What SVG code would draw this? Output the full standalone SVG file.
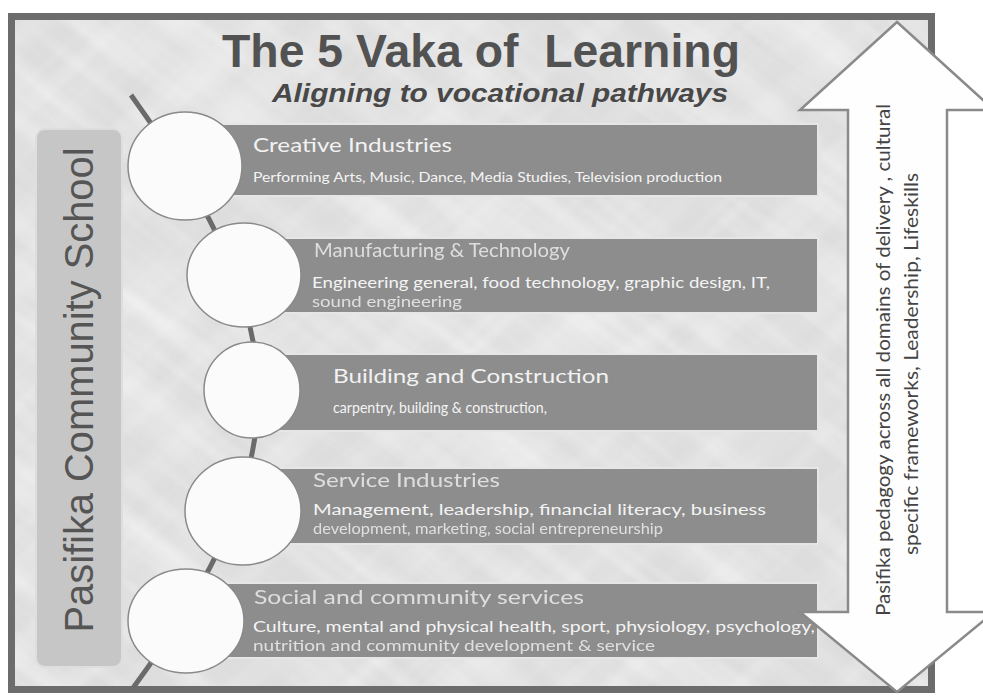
<svg xmlns="http://www.w3.org/2000/svg" width="983" height="697" viewBox="0 0 983 697">
  <defs>
    <style>
      .title { font-family: "Liberation Sans", Arial, sans-serif; font-weight: bold; fill: #525252; white-space: pre; }
      .subtitle { font-family: "Liberation Sans", Arial, sans-serif; font-weight: bold; font-style: italic; fill: #484848; }
      .bar-label { font-family: "Liberation Sans", Arial, sans-serif; fill: #555555; }
      .box { fill: #8d8d8d; stroke: #e6e6e6; stroke-width: 2; }
      .disc { fill: #fbfbfb; stroke: #8a8a8a; stroke-width: 1.5; }
      .head { font-family: Lato, "Open Sans", sans-serif; font-size: 20px; fill: #f2f2f2; }
      .line { font-family: Lato, "Open Sans", sans-serif; font-size: 14.5px; fill: #f4f4f4; }
      .small { font-size: 13.5px; }
      .worn { opacity: 0.8; filter: url(#smear); }
      .arrow-text { font-family: Lato, "Open Sans", sans-serif; font-size: 19px; fill: #444444; }
      .spine { fill: none; stroke: #6a6a6a; stroke-width: 5; }
    </style>
    <filter id="marble" x="0" y="0" width="100%" height="100%">
      <feTurbulence type="fractalNoise" baseFrequency="0.003 0.035" numOctaves="3" seed="7"/>
      <feColorMatrix type="matrix" values="0 0 0 0 1  0 0 0 0 1  0 0 0 0 1  0 0 0 1.1 -0.42"/>
    </filter>
    <filter id="smear" x="-5%" y="-30%" width="110%" height="160%">
      <feGaussianBlur stdDeviation="0.55"/>
    </filter>
    <clipPath id="inside">
      <rect x="15" y="20" width="913" height="666"/>
    </clipPath>
  </defs>

  <!-- page and marbled panel -->
  <rect x="0" y="0" width="983" height="697" fill="#ffffff"/>
  <rect x="15" y="20" width="913" height="666" fill="#dddddd"/>
  <g clip-path="url(#inside)">
    <rect x="-300" y="-300" width="1600" height="1300" filter="url(#marble)" transform="rotate(38 470 350)" opacity="0.8"/>
    <rect x="-300" y="-300" width="1600" height="1300" filter="url(#marble)" transform="rotate(-42 470 350)" opacity="0.55"/>
  </g>
  <rect x="11.5" y="16.5" width="920" height="673" fill="none" stroke="#6c6c6c" stroke-width="7"/>

  <!-- title -->
  <g id="title">
    <text class="title" x="222" y="67" font-size="46" textLength="518" lengthAdjust="spacingAndGlyphs" xml:space="preserve">The 5 Vaka of  Learning</text>
    <text class="subtitle" x="272" y="102" font-size="25" textLength="456" lengthAdjust="spacingAndGlyphs">Aligning to vocational pathways</text>
  </g>

  <!-- school bar on the left -->
  <g id="school">
    <rect x="36" y="129" width="86" height="538" rx="9" fill="#c6c6c6" stroke="#dedede" stroke-width="2"/>
    <text class="bar-label" font-size="40" text-anchor="middle" textLength="485" lengthAdjust="spacingAndGlyphs" transform="translate(93 390) rotate(-90)">Pasifika Community School</text>
  </g>

  <!-- spine running through the five discs -->
  <g id="connectors">
    <path class="spine" d="M131,95 C300,330 300,460 133,688"/>
  </g>

  <!-- vaka 1 -->
  <g id="vaka-creative">
    <rect class="box" x="185" y="124" width="633" height="72"/>
    <ellipse class="disc" cx="185" cy="166" rx="57" ry="54"/>
    <text class="head" x="253" y="152" textLength="199" lengthAdjust="spacingAndGlyphs">Creative Industries</text>
    <text class="line small" x="253" y="182" textLength="469" lengthAdjust="spacingAndGlyphs">Performing Arts, Music, Dance, Media Studies, Television production</text>
  </g>

  <!-- vaka 2 -->
  <g id="vaka-manufacturing">
    <rect class="box" x="244" y="238" width="574" height="75"/>
    <ellipse class="disc" cx="244" cy="275" rx="57" ry="52"/>
    <text class="head worn" x="314" y="257" textLength="256" lengthAdjust="spacingAndGlyphs">Manufacturing &amp; Technology</text>
    <text class="line" x="312" y="288" textLength="458" lengthAdjust="spacingAndGlyphs">Engineering general, food technology, graphic design, IT,</text>
    <text class="line worn" x="312" y="307" textLength="150" lengthAdjust="spacingAndGlyphs">sound engineering</text>
  </g>

  <!-- vaka 3 -->
  <g id="vaka-building">
    <rect class="box" x="252" y="354" width="566" height="77"/>
    <ellipse class="disc" cx="252" cy="390" rx="48" ry="48"/>
    <text class="head" x="333" y="383" textLength="276" lengthAdjust="spacingAndGlyphs">Building and Construction</text>
    <text class="line" x="333" y="413" textLength="214" lengthAdjust="spacingAndGlyphs">carpentry, building &amp; construction,</text>
  </g>

  <!-- vaka 4 -->
  <g id="vaka-service">
    <rect class="box" x="243" y="468" width="575" height="76"/>
    <ellipse class="disc" cx="243" cy="511" rx="58" ry="54"/>
    <text class="head worn" x="313" y="487" textLength="187" lengthAdjust="spacingAndGlyphs">Service Industries</text>
    <text class="line" x="313" y="515" textLength="453" lengthAdjust="spacingAndGlyphs">Management, leadership, financial literacy, business</text>
    <text class="line worn" x="313" y="534" textLength="350" lengthAdjust="spacingAndGlyphs">development, marketing, social entrepreneurship</text>
  </g>

  <!-- vaka 5 -->
  <g id="vaka-social">
    <rect class="box" x="186" y="583" width="632" height="75"/>
    <ellipse class="disc" cx="186" cy="621" rx="58" ry="52"/>
    <text class="head worn" x="254" y="604" textLength="330" lengthAdjust="spacingAndGlyphs">Social and community services</text>
    <text class="line" x="253" y="632" textLength="562" lengthAdjust="spacingAndGlyphs">Culture, mental and physical health, sport, physiology, psychology,</text>
    <text class="line worn" x="253" y="651" textLength="402" lengthAdjust="spacingAndGlyphs">nutrition and community development &amp; service</text>
  </g>

  <!-- double-headed arrow on the right -->
  <g id="pedagogy">
    <polygon points="897,22 994,110 947,110 947,612 994,612 897,692 800,612 848,612 848,110 800,110" fill="#fefefe" stroke="#8a8a8a" stroke-width="2.5"/>
    <text class="arrow-text" text-anchor="middle" textLength="512" lengthAdjust="spacingAndGlyphs" transform="translate(890 360) rotate(-90)">Pasifika pedagogy across all domains of delivery , cultural</text>
    <text class="arrow-text" text-anchor="middle" textLength="382" lengthAdjust="spacingAndGlyphs" transform="translate(918 364) rotate(-90)">specific frameworks, Leadership, Lifeskills</text>
  </g>
</svg>
